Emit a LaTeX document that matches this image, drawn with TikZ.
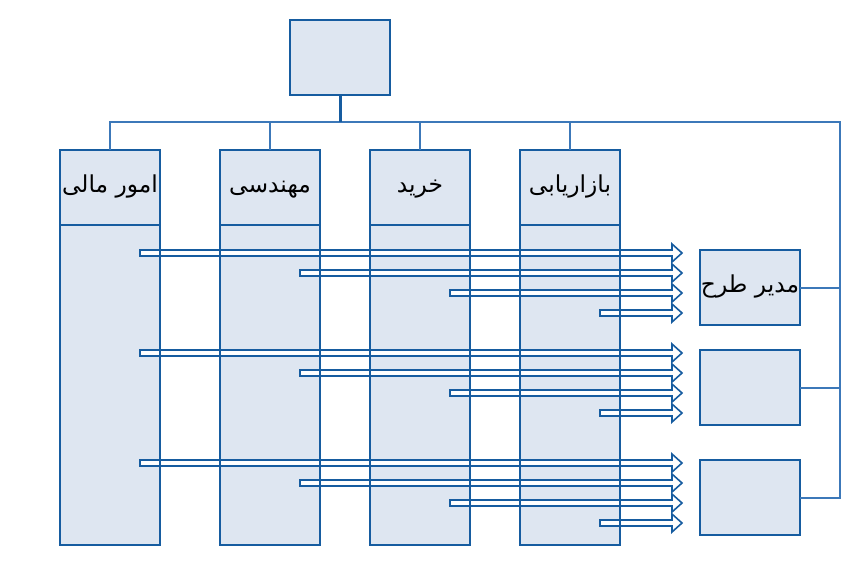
\documentclass[tikz,border=0pt]{standalone}
\usepackage{fontspec}
\newfontfamily\arabicfont[Script=Arabic]{DejaVu Sans}
\TeXXeTstate=1
\usetikzlibrary{positioning}
\definecolor{boxfill}{RGB}{222,230,241}
\definecolor{boxline}{RGB}{22,92,160}
\definecolor{busline}{RGB}{60,120,185}
\tikzset{
  unit/.style={draw=boxline,fill=boxfill,line width=1.5pt,inner sep=0pt,
    outer sep=0pt,minimum width=75pt,minimum height=56.25pt,
    text height=12pt,text depth=4pt,
    font=\arabicfont\fontsize{17.5}{20}\selectfont},
  body/.style={draw=boxline,fill=boxfill,line width=1.5pt,inner sep=0pt,
    outer sep=0pt,minimum width=75pt,minimum height=240pt},
  bus/.style={draw=busline,line width=1.5pt},
  hollow/.style={draw=boxline,fill=white,line width=1.2pt,line join=miter}
}
\begin{document}
\begin{tikzpicture}[x=0.75pt,y=-0.75pt]
    \useasboundingbox (0,0) rectangle (864,565);
    \node[unit] (top) at (340,57.5) {};
    \node[body] (finB) at (110,385) {};
    \node[body] (engB) at (270,385) {};
    \node[body] (buyB) at (420,385) {};
    \node[body] (mktB) at (570,385) {};
    \node[unit,above=0pt of finB] (fin) {\beginR امور مالی\endR};
    \node[unit,above=0pt of engB] (eng) {\beginR مهندسی\endR};
    \node[unit,above=0pt of buyB] (buy) {\beginR خرید\endR};
    \node[unit,above=0pt of mktB] (mkt) {\beginR بازاریابی\endR};
    \node[unit] (pm) at (750,287.5) {\beginR مدیر طرح\endR};
    \node[unit] (pm2) at (750,387.5) {};
    \node[unit] (pm3) at (750,497.5) {};
    \coordinate (bus) at (340,122);
    \coordinate (busR) at (840,122);
    % bus lines
    \draw[bus] (fin.north) |- (busR) |- (pm3.east);
    \foreach \n in {eng,buy,mkt}
        \draw[bus] (\n.north) -- (\n.north |- bus);
    \draw[bus] (pm.east) -- (pm.east -| busR);
    \draw[bus] (pm2.east) -- (pm2.east -| busR);
    \draw[draw=boxline,line width=2.25pt] (top.south) -- (bus);
    % hollow arrows
    \foreach \g in {253,353,463}
        \foreach \sx [count=\i from 0] in {140,300,450,600}
            \draw[hollow] (\sx,\g+20*\i-3) -- (672,\g+20*\i-3) -- ++(0,-6)
                -- (682,\g+20*\i) -- (672,\g+20*\i+9) -- ++(0,-6)
                -- (\sx,\g+20*\i+3) -- cycle;
    \foreach \c in {finB,engB,buyB,mktB}
        \draw[boxline,line width=1.5pt] (\c.north west) -- (\c.south west)
            (\c.north east) -- (\c.south east);
\end{tikzpicture}
\end{document}
